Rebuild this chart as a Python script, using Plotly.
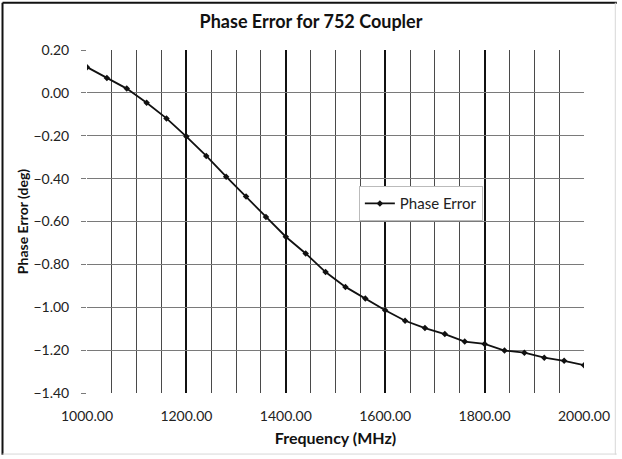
import plotly.graph_objects as go

freq_mhz = [1000, 1040, 1080, 1120, 1160, 1200, 1240, 1280, 1320, 1360,
            1400, 1440, 1480, 1520, 1560, 1600, 1640, 1680, 1720, 1760,
            1800, 1840, 1880, 1920, 1960, 2000]
phase_error = [0.120, 0.069, 0.020, -0.046, -0.119, -0.204, -0.294, -0.391, -0.483, -0.579,
               -0.671, -0.749, -0.836, -0.905, -0.959, -1.014, -1.063, -1.097, -1.125, -1.160,
               -1.171, -1.202, -1.212, -1.235, -1.250, -1.270]
x_ticks = [1000, 1200, 1400, 1600, 1800, 2000]

FONT = "Lato"

fig = go.Figure()
fig.add_trace(go.Scatter(
    x=freq_mhz,
    y=phase_error,
    mode="lines+markers",
    name="Phase Error",
    line=dict(color="#111111", width=1.8),
    marker=dict(symbol="diamond", size=5, color="#111111"),
))

fig.update_layout(
    width=622,
    height=459,
    paper_bgcolor="white",
    plot_bgcolor="white",
    margin=dict(l=87, r=36, t=50, b=66),
    font=dict(family=FONT, size=14, color="#222222"),
    title=dict(
        text="<b>Phase Error for 752 Coupler</b>",
        x=0.5, xanchor="center", y=0.952, yanchor="middle",
        font=dict(family=FONT, size=18, color="#111111"),
    ),
    showlegend=True,
    legend=dict(
        x=0.547, y=0.552, xanchor="left", yanchor="middle",
        bgcolor="white", bordercolor="#bbbbbb", borderwidth=1,
        font=dict(family=FONT, size=15, color="#222222"),
        itemwidth=30,
    ),
)

fig.update_xaxes(
    range=[1000, 2000],
    tickvals=x_ticks,
    tickformat=".2f",
    showgrid=True, gridcolor="#111111", gridwidth=1.6,
    minor=dict(dtick=50, tick0=1000, showgrid=True, gridcolor="#4a4a4a", gridwidth=1),
    showline=False, zeroline=False,
    ticks="", ticklabelstandoff=13,
    title=dict(text="<b>Frequency (MHz)</b>", font=dict(family=FONT, size=16, color="#111111"), standoff=9),
)

fig.update_yaxes(
    range=[-1.40, 0.20],
    dtick=0.2, tick0=0,
    tickformat=".2f",
    showgrid=True, gridcolor="#7a7a7a", gridwidth=1,
    showline=False, zeroline=False,
    ticks="outside", ticklen=5, tickcolor="#7a7a7a",
    ticklabelstandoff=9,
    title=dict(text="<b>Phase Error (deg)</b>", font=dict(family=FONT, size=14, color="#111111"), standoff=1),
)

# chart frame: dark on left/top, faint on right/bottom
frame = [
    (-0.170, -0.170, -0.18, 1.138, "#111111", 2),
    (-0.170, 1.066, 1.138, 1.138, "#111111", 2),
    (1.063, 1.063, -0.18, 1.138, "#d8d8d8", 1),
    (-0.170, 1.066, -0.178, -0.178, "#d8d8d8", 1),
]
for x0, x1, y0, y1, col, w in frame:
    fig.add_shape(type="line", xref="paper", yref="paper", x0=x0, x1=x1, y0=y0, y1=y1,
                  layer="above", line=dict(color=col, width=w))

fig.write_html("out.html", config={"displayModeBar": False},
               post_script="document.body.style.margin='0px';")
